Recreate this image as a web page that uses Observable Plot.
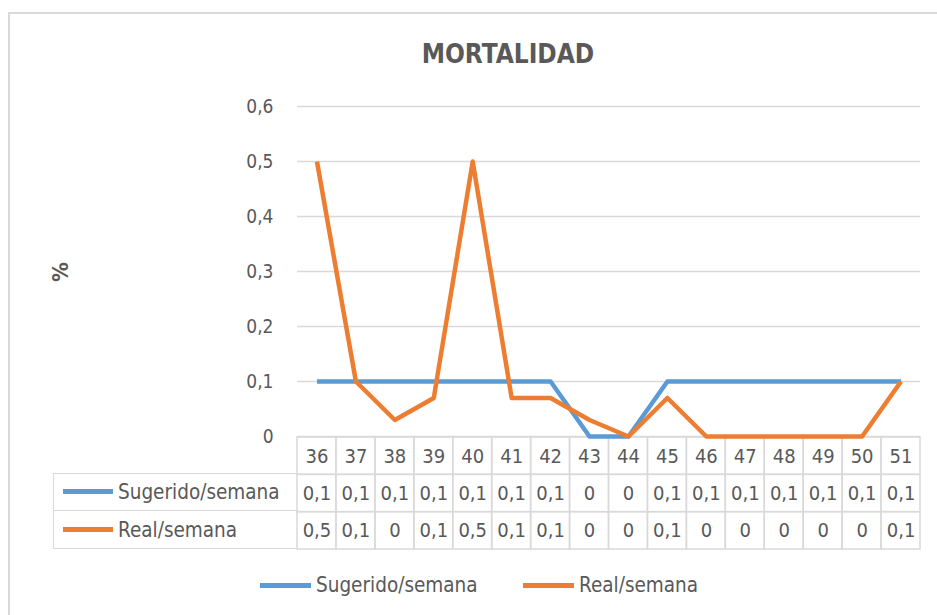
<!DOCTYPE html>
<html><head><meta charset="utf-8">
<script src="https://cdn.jsdelivr.net/npm/d3@7"></script>
<script src="https://cdn.jsdelivr.net/npm/@observablehq/plot@0.6"></script>
<style>
body{margin:0;background:#fff;}
#wrap{position:relative;width:937px;height:615px;overflow:hidden;font-family:"DejaVu Sans Condensed","DejaVu Sans",sans-serif;font-stretch:condensed;color:#595959;background:#fff;}
#frame{position:absolute;left:8px;top:12px;width:960px;height:640px;border-left:2px solid #d9d9d9;border-top:2px solid #d9d9d9;}
#title{position:absolute;left:308px;width:400px;top:39px;text-align:center;font-size:26px;line-height:30px;font-weight:bold;}
#ylab{position:absolute;left:41px;top:257px;width:40px;height:30px;line-height:30px;text-align:center;font-size:22px;font-weight:bold;transform:rotate(-90deg);}
.abs{position:absolute;}
#labcol{position:absolute;left:53px;top:473px;width:244px;height:76px;box-sizing:border-box;border:1.5px solid #d9d9d9;border-right:none;}
.row{position:absolute;left:0;width:244px;height:38px;display:flex;align-items:center;font-size:20.5px;}
.sw{display:inline-block;width:50px;height:5px;margin-left:9px;margin-right:5px;}
#legend{position:absolute;top:572px;left:0;width:937px;height:26px;}
.leg{position:absolute;display:flex;align-items:center;font-size:20.5px;height:26px;}
.leg .sw{margin-left:0;margin-right:5px;width:51px;}
</style></head>
<body>
<div id="wrap">
  <div id="frame"></div>
  <div id="title"></div>
  <div id="ylab">%</div>
  <div id="chart" class="abs" style="left:0;top:0;z-index:2"></div>
  <div id="table" class="abs" style="left:0;top:436px;z-index:1"></div>
  <div id="labcol"></div>
  <div id="legend"></div>
</div>
<script>
const titleText = "MORTALIDAD";
const weeks = [36,37,38,39,40,41,42,43,44,45,46,47,48,49,50,51];
const sugerido = [0.1,0.1,0.1,0.1,0.1,0.1,0.1,0,0,0.1,0.1,0.1,0.1,0.1,0.1,0.1];
const real = [0.5,0.1,0.03,0.07,0.5,0.07,0.07,0.03,0,0.07,0,0,0,0,0,0.1];
const seriesNames = ["Sugerido/semana","Real/semana"];
const seriesColors = ["#5B9BD5","#ED7D31"];
const yTicks = [0,0.1,0.2,0.3,0.4,0.5,0.6];

const fmtComma = d => { const r = Math.round(d*10)/10; return r === 0 ? "0" : String(r).replace(".", ","); };
const fontFam = '"DejaVu Sans Condensed","DejaVu Sans",sans-serif';

document.getElementById("title").textContent = titleText;

const lineData = [];
weeks.forEach((w,i)=>{
  lineData.push({week:w, value:sugerido[i], series:seriesNames[0]});
});
weeks.forEach((w,i)=>{
  lineData.push({week:w, value:real[i], series:seriesNames[1]});
});

const chart = Plot.plot({
  width: 937, height: 440,
  marginTop: 106, marginBottom: 4, marginLeft: 297, marginRight: 17,
  style: {fontFamily: fontFam, fontStretch: "condensed", background: "transparent", color: "#595959", overflow: "visible"},
  x: {type: "point", domain: weeks, padding: 0.5, round: false, axis: null},
  y: {domain: [0, 0.6], axis: null},
  color: {domain: seriesNames, range: seriesColors},
  marks: [
    Plot.gridY(yTicks, {stroke: "#d9d9d9", strokeOpacity: 1, strokeWidth: 1.5}),
    Plot.axisY(yTicks, {tickSize: 0, tickPadding: 24, tickFormat: fmtComma, fontSize: 19, fill: "#595959", label: null}),
    Plot.lineY(lineData, {x: "week", y: "value", z: "series", stroke: "series", strokeWidth: 4.5, strokeLinejoin: "round", strokeLinecap: "butt"})
  ]
});
document.getElementById("chart").appendChild(chart);

const rows = ["head", seriesNames[0], seriesNames[1]];
const cells = [];
weeks.forEach((w,i)=>{
  cells.push({week:w, row:"head", label:String(w)});
  cells.push({week:w, row:seriesNames[0], label:fmtComma(sugerido[i])});
  cells.push({week:w, row:seriesNames[1], label:fmtComma(real[i])});
});

const table = Plot.plot({
  width: 937, height: 116,
  marginTop: 1, marginBottom: 3, marginLeft: 297, marginRight: 17,
  style: {fontFamily: fontFam, fontStretch: "condensed", background: "transparent", color: "#595959"},
  x: {type: "band", domain: weeks, padding: 0, round: false, axis: null},
  y: {type: "band", domain: rows, padding: 0, round: false, axis: null},
  marks: [
    Plot.cell(cells, {x: "week", y: "row", fill: "none", stroke: "#d9d9d9", strokeWidth: 1.5, inset: 0}),
    Plot.text(cells, {x: "week", y: "row", text: "label", fontSize: 20, fill: "#595959"})
  ]
});
document.getElementById("table").appendChild(table);

const labcol = document.getElementById("labcol");
seriesNames.forEach((n,i)=>{
  const r = document.createElement("div");
  r.className = "row";
  r.style.top = (i*37.3 - 1.5) + "px";
  if (i === 1) r.style.borderTop = "1.5px solid #d9d9d9";
  r.innerHTML = `<span class="sw" style="background:${seriesColors[i]}"></span><span>${n}</span>`;
  labcol.appendChild(r);
});

const legend = document.getElementById("legend");
const legX = [260, 523];
seriesNames.forEach((n,i)=>{
  const d = document.createElement("div");
  d.className = "leg";
  d.style.left = legX[i] + "px";
  d.innerHTML = `<span class="sw" style="background:${seriesColors[i]}"></span><span>${n}</span>`;
  legend.appendChild(d);
});
</script>
</body></html>
